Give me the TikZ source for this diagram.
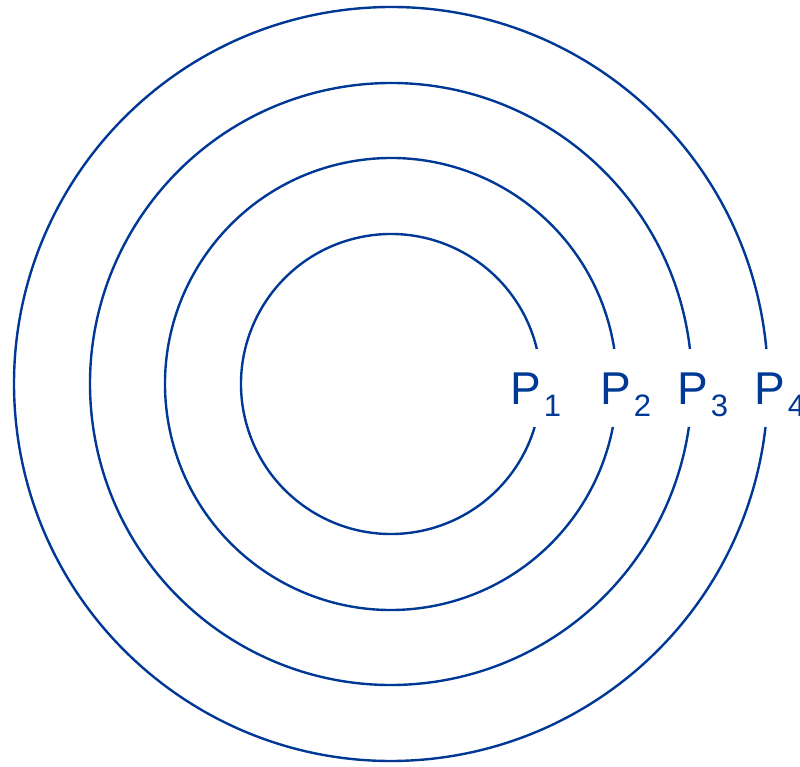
\documentclass[tikz,border=0pt]{standalone}
\usepackage{fontspec}
\setmainfont{Liberation Sans}
\usetikzlibrary{positioning}
\definecolor{ringblue}{RGB}{0,56,150}
\newcommand{\plab}[1]{P\kern3pt\raisebox{-12pt}{\fontsize{31}{31}\selectfont #1}}

\begin{document}
\begin{tikzpicture}[x=1pt,y=1pt,
    ring/.style={draw=ringblue, line width=2.4pt},
    plabel/.style={anchor=base west, inner sep=0pt, text=ringblue, font=\fontsize{46}{46}\selectfont}]
    \useasboundingbox (0,0) rectangle (800,766);
    \coordinate (o) at (391,382);
    % four rings, open at the right for the labels
    \foreach \r in {150,226,301,377}
        \draw[ring] (o) ++({asin(35/\r)}:\r) arc[start angle={asin(35/\r)}, end angle={360-asin(43/\r)}, radius=\r];
    \node[plabel] (p1) at (510,361) {\plab{1}};
    \node[plabel] (p2) at (600,361) {\plab{2}};
    \node[plabel] (p3) at (677,361) {\plab{3}};
    \node[plabel] (p4) at (754,361) {\plab{4}};
\end{tikzpicture}
\end{document}
